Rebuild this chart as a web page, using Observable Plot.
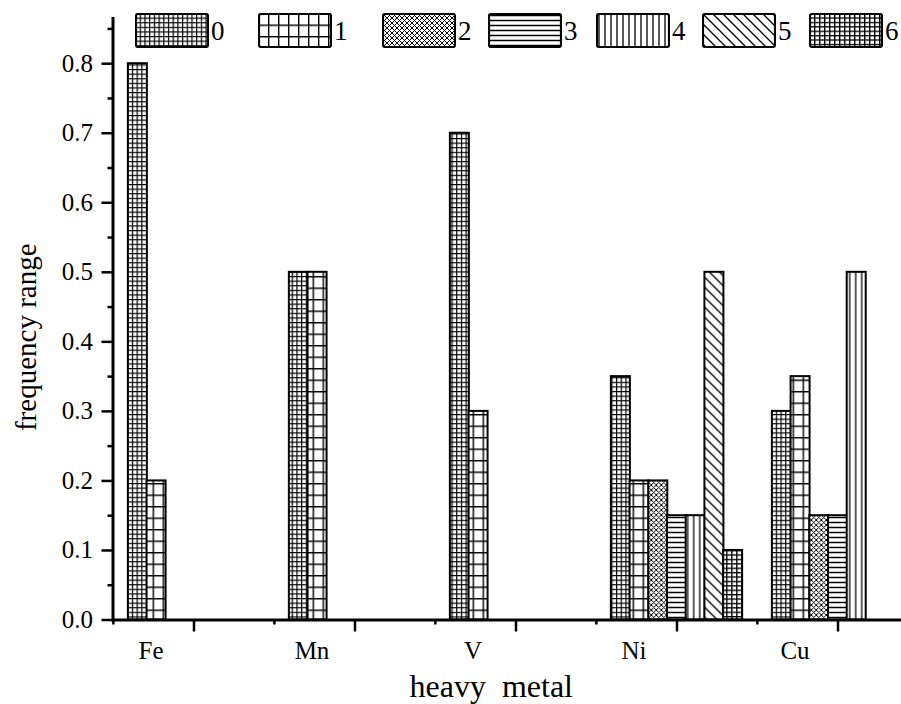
<!DOCTYPE html>
<html><head><meta charset="utf-8">
<script src="https://cdn.jsdelivr.net/npm/d3@7"></script>
<script src="https://cdn.jsdelivr.net/npm/@observablehq/plot@0.6"></script>
<style>
body{margin:0;background:#fff;}
#wrap{position:relative;width:901px;height:704px;overflow:hidden;}
#legend{position:absolute;left:0;top:0;width:901px;height:60px;font-family:"Liberation Serif","Times New Roman",serif;font-size:27px;color:#000;}
.item{position:absolute;top:13px;display:flex;align-items:center;}
.item svg{display:block}
.item span{margin-left:2px;line-height:34px;}
svg text{white-space:pre;}
</style></head>
<body>
<svg width="0" height="0" style="position:absolute">
<defs>
<pattern id="pat0" patternUnits="userSpaceOnUse" width="4.7" height="4.6">
<rect width="4.7" height="4.6" fill="#fff"/><path d="M0 0.6H4.7M0.6 0V4.6" stroke="#000" stroke-width="1.2"/></pattern>
<pattern id="pat1" patternUnits="userSpaceOnUse" width="10" height="11.5">
<rect width="10" height="11.5" fill="#fff"/><path d="M0 0.7H10M0.7 0V11.5" stroke="#000" stroke-width="1.4"/></pattern>
<pattern id="pat2" patternUnits="userSpaceOnUse" width="5" height="5">
<rect width="5" height="5" fill="#fff"/><path d="M-1 -1L6 6M6 -1L-1 6" stroke="#000" stroke-width="1"/></pattern>
<pattern id="pat3" patternUnits="userSpaceOnUse" width="5" height="5">
<rect width="5" height="5" fill="#fff"/><path d="M0 2.5H5" stroke="#000" stroke-width="1.5"/></pattern>
<pattern id="pat4" patternUnits="userSpaceOnUse" width="6" height="6">
<rect width="6" height="6" fill="#fff"/><path d="M3 0V6" stroke="#000" stroke-width="1.3"/></pattern>
<pattern id="pat5" patternUnits="userSpaceOnUse" width="10" height="10">
<rect width="10" height="10" fill="#fff"/><path d="M-1 -1L11 11M-1 9L1 11M9 -1L11 1" stroke="#000" stroke-width="1.3"/></pattern>
<pattern id="pat6" patternUnits="userSpaceOnUse" width="5" height="4.4">
<rect width="5" height="4.4" fill="#fff"/><path d="M0 0.7H5M0.7 0V4.4" stroke="#000" stroke-width="1.4"/></pattern>
</defs>
</svg>
<div id="wrap"><div id="chart"></div><div id="legend"></div></div>
<script>
// ---- data ----
const metals = ["Fe", "Mn", "V", "Ni", "Cu"];
const seriesNames = ["0", "1", "2", "3", "4", "5", "6"];
const s0 = [0.8, 0.5, 0.7, 0.35, 0.30];
const s1 = [0.2, 0.5, 0.3, 0.20, 0.35];
const s2 = [0.0, 0.0, 0.0, 0.20, 0.15];
const s3 = [0.0, 0.0, 0.0, 0.15, 0.15];
const s4 = [0.0, 0.0, 0.0, 0.15, 0.50];
const s5 = [0.0, 0.0, 0.0, 0.50, 0.00];
const s6 = [0.0, 0.0, 0.0, 0.10, 0.00];
const yTicks = [0, 0.1, 0.2, 0.3, 0.4, 0.5, 0.6, 0.7, 0.8];
const yMinorTicks = [0.05, 0.15, 0.25, 0.35, 0.45, 0.55, 0.65, 0.75, 0.85];
const xLabel = "heavy  metal";
const yLabel = "frequency range";

// ---- layout ----
const W = 901, H = 704;
const mLeft = 112.5, mTop = 18, mBottom = 84.5;
const xRange = [112.5, 919];
const padInner = 0.884;
const step = (xRange[1] - xRange[0]) / metals.length;
const bw = step * (1 - padInner);
const legendLeft = [135, 258, 382, 488, 596, 702, 809];

const allSeries = [s0, s1, s2, s3, s4, s5, s6];
const data = [];
allSeries.forEach((vals, k) => vals.forEach((v, i) => data.push({metal: metals[i], series: seriesNames[k], k, value: v})));

const marks = [];
seriesNames.forEach((s, k) => {
  marks.push(Plot.barY(data.filter(d => d.k === k && d.value > 0), {
    x: "metal", y: "value", fill: `url(#pat${k})`, stroke: "black", strokeWidth: 2, dx: (k - 3) * bw
  }));
});

marks.push(
  Plot.axisY({ticks: yTicks, tickFormat: d3.format(".1f"), tickSize: 11, tickPadding: 9, strokeWidth: 2.5, fontSize: 25, label: null}),
  Plot.axisY({ticks: yMinorTicks, tickFormat: () => "", tickSize: 5, strokeWidth: 2.5, label: null}),
  Plot.axisX({tickSize: 12, tickFormat: () => "", strokeWidth: 2.5, label: null}),
  Plot.axisX({tickSize: 5, tickFormat: () => "", dx: -step / 2, strokeWidth: 2.5, label: null}),
  Plot.axisX({tickSize: 0, tickPadding: 21, dx: -43, fontSize: 25, label: null}),
  Plot.frame({anchor: "left", strokeWidth: 3}),
  Plot.frame({anchor: "bottom", strokeWidth: 3}),
  Plot.text([yLabel], {text: d => d, frameAnchor: "left", textAnchor: "middle", lineAnchor: "middle", dx: -86, dy: 18, rotate: -90, fontSize: 29}),
  Plot.text([xLabel], {text: d => d, frameAnchor: "bottom", textAnchor: "middle", lineAnchor: "middle", dx: -16, dy: 67, fontSize: 32})
);

const chart = Plot.plot({
  width: W, height: H,
  marginLeft: mLeft, marginRight: 0, marginTop: mTop, marginBottom: mBottom,
  style: {fontFamily: "'Liberation Serif', 'Times New Roman', serif", color: "#000", background: "#fff", overflow: "visible"},
  x: {type: "band", domain: metals, range: xRange, paddingInner: padInner, paddingOuter: padInner / 2},
  y: {domain: [0, 0.865]},
  marks
});
document.getElementById("chart").appendChild(chart);

// legend
const legend = document.getElementById("legend");
seriesNames.forEach((s, k) => {
  const item = document.createElement("div");
  item.className = "item";
  item.style.left = legendLeft[k] + "px";
  item.innerHTML = `<svg width="74" height="35"><rect x="1" y="1" width="72" height="33" rx="2" fill="url(#pat${k})" stroke="#000" stroke-width="2.2"/></svg><span>${s}</span>`;
  legend.appendChild(item);
});
</script>
</body></html>
